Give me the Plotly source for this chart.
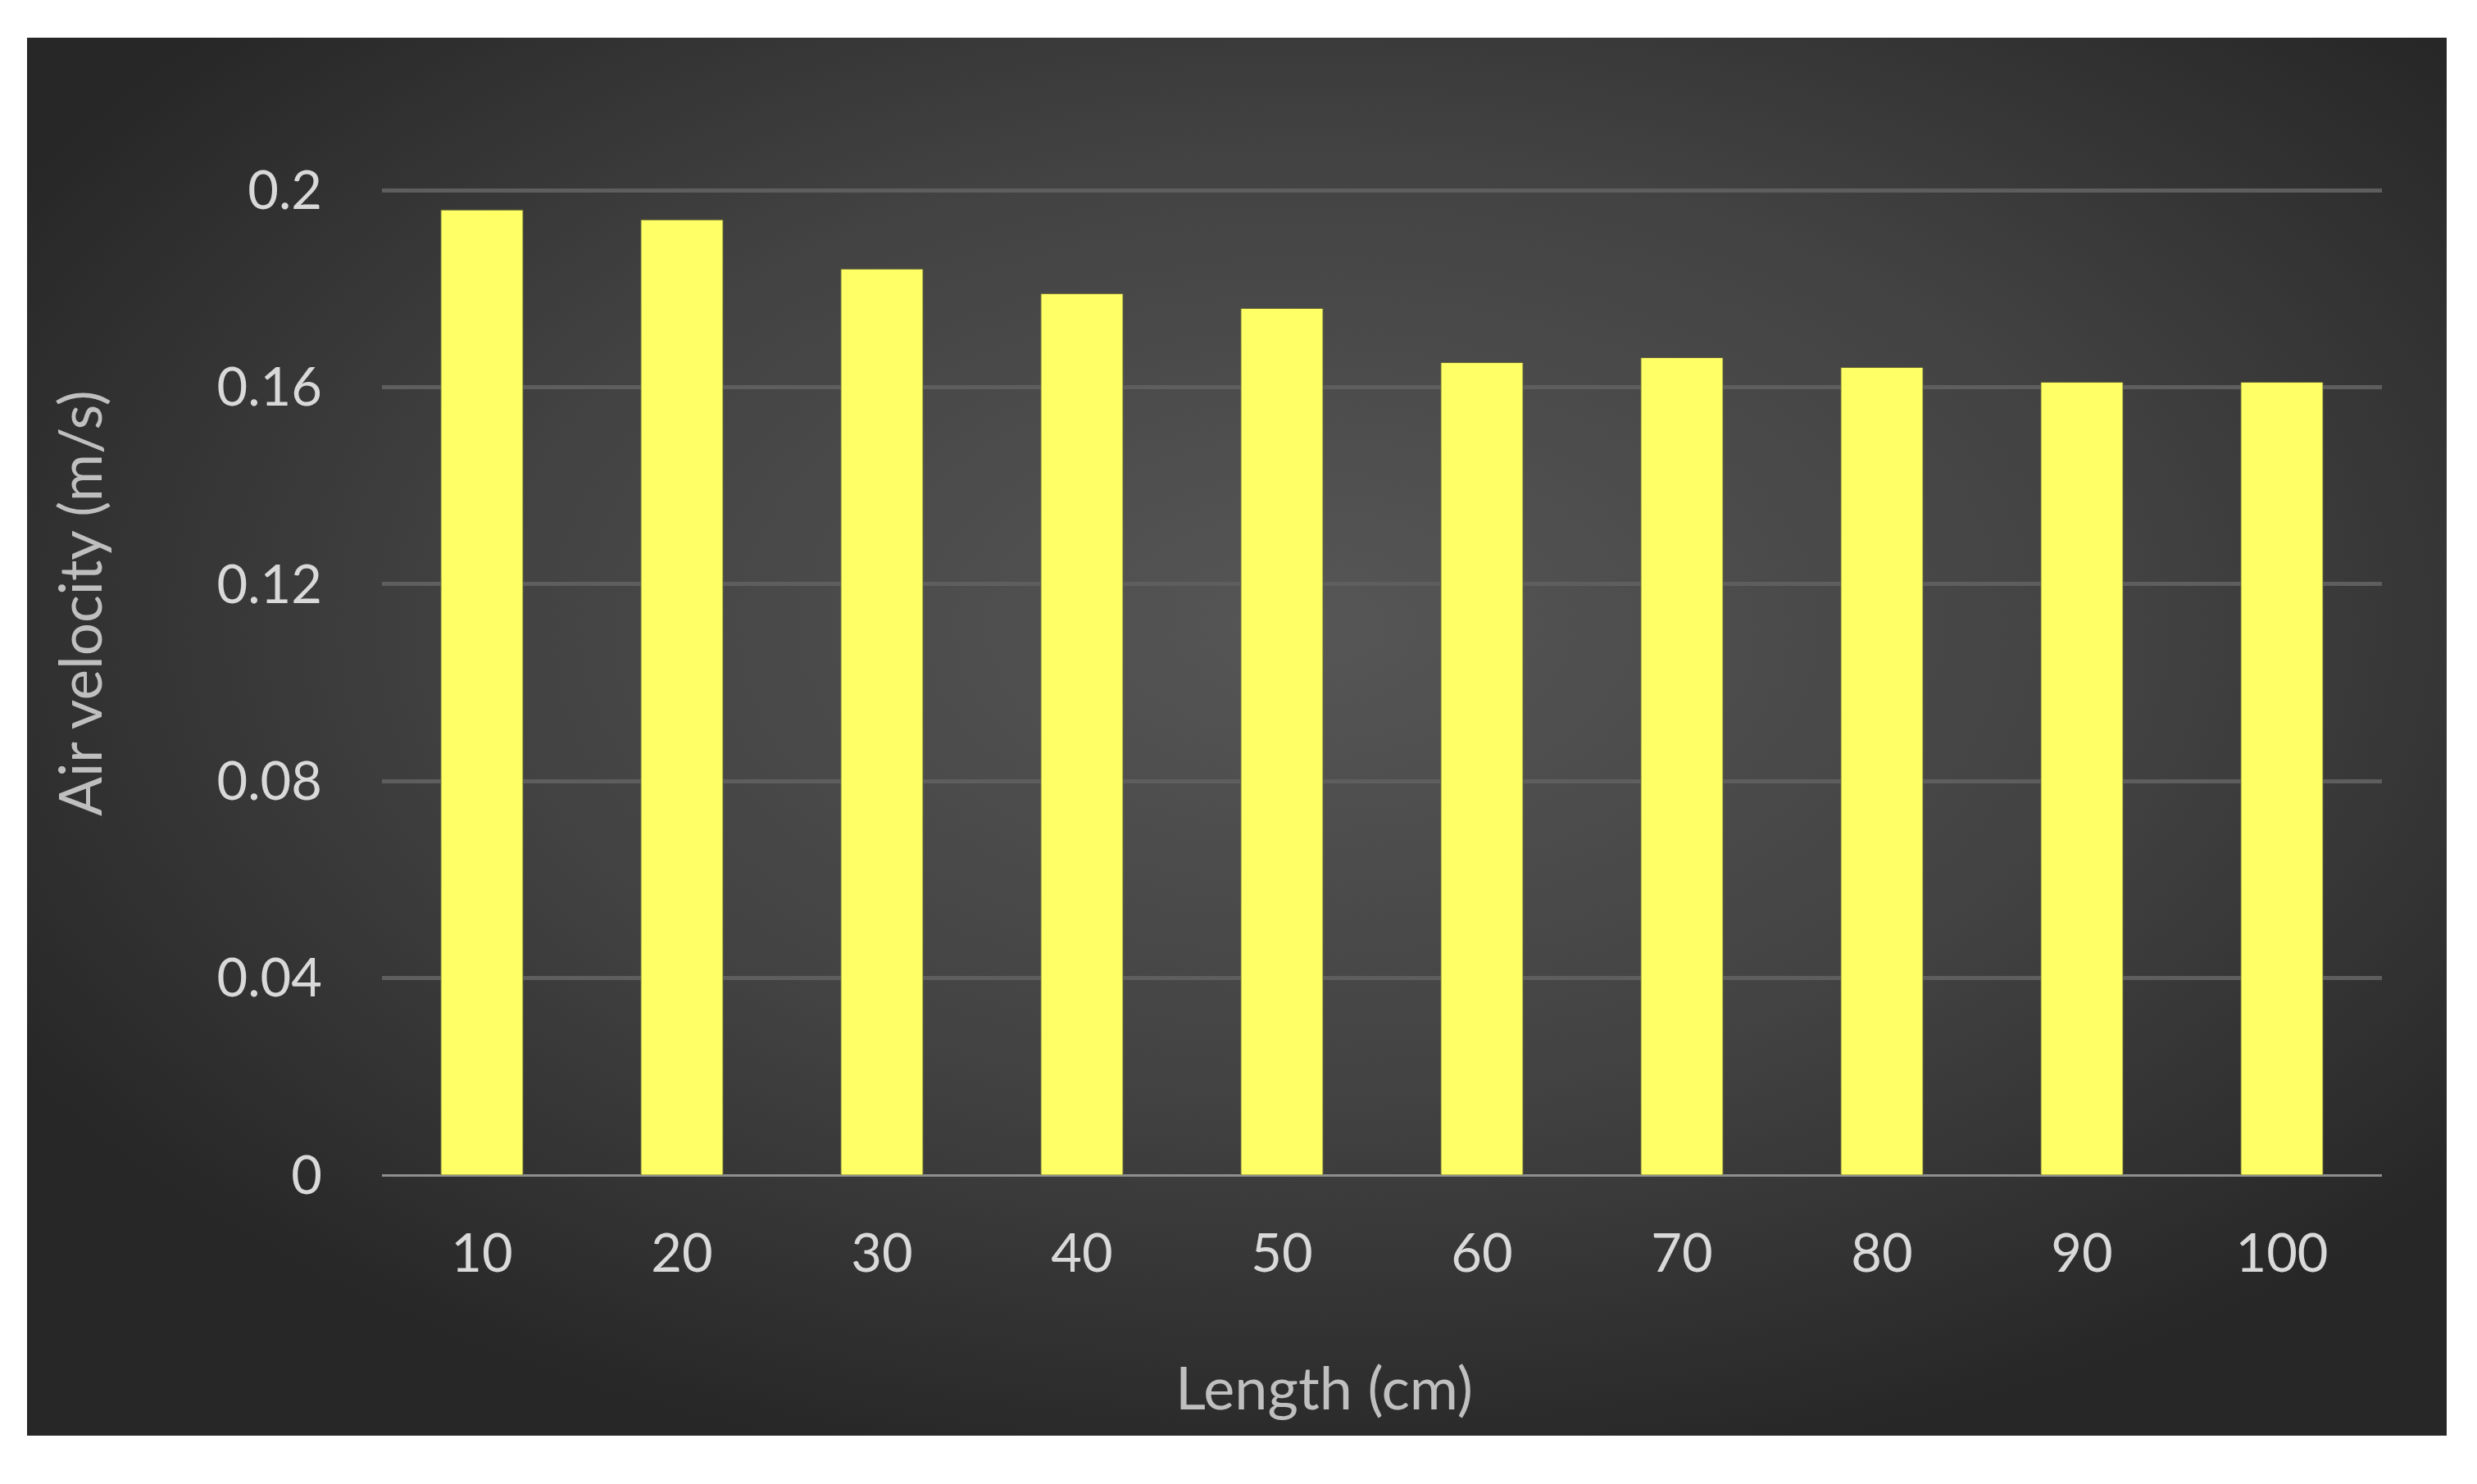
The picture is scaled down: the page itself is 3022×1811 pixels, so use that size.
import plotly.graph_objects as go

lengths = ["10", "20", "30", "40", "50", "60", "70", "80", "90", "100"]
air_velocity = [0.196, 0.194, 0.184, 0.179, 0.176, 0.165, 0.166, 0.164, 0.161, 0.161]
y_ticks = [0, 0.04, 0.08, 0.12, 0.16, 0.2]
y_tick_text = ["0", "0.04", "0.08", "0.12", "0.16", "0.2"]

W, H = 3022, 1811
L, R, T, B = 458, 124, 223, 385
pw, ph = W - L - R, H - T - B

def xp(px):
    return (px - L) / pw

def yp(py):
    return (H - B - py) / ph

# background panel (pixels, figure coords)
px0, px1, py0, py1 = 25, 2977, 38, 1744
svg = ("<svg xmlns='http://www.w3.org/2000/svg' width='1000' height='600' preserveAspectRatio='none'>"
       "<defs><radialGradient id='g' cx='0.53' cy='0.42' r='0.62' gradientUnits='objectBoundingBox'>"
       "<stop offset='0' stop-color='%23565656'/><stop offset='0.55' stop-color='%23424242'/>"
       "<stop offset='1' stop-color='%23272727'/></radialGradient></defs>"
       "<rect width='1000' height='600' fill='url(%23g)'/></svg>")
src = "data:image/svg+xml;charset=utf-8," + svg.replace("<", "%3C").replace(">", "%3E").replace(" ", "%20")

fig = go.Figure()
fig.add_trace(go.Bar(
    x=lengths, y=air_velocity,
    marker=dict(color="#ffff66", line=dict(color="#6b6b3a", width=1)),
))

font = "Lato, 'Open Sans', sans-serif"
fig.update_layout(
    width=W, height=H,
    margin=dict(l=L, r=R, t=T, b=B),
    paper_bgcolor="white",
    plot_bgcolor="rgba(0,0,0,0)",
    bargap=0.59,
    showlegend=False,
    font=dict(family=font, color="#d9d9d9", size=65),
    xaxis=dict(
        type="category",
        showgrid=False, showline=False, zeroline=False,
        ticks="outside", ticklen=0, tickcolor="rgba(0,0,0,0)",
        ticklabelstandoff=39,
        tickfont=dict(size=65, color="#d9d9d9", family=font),
    ),
    yaxis=dict(
        range=[0, 0.2002],
        tickvals=y_ticks, ticktext=y_tick_text,
        showgrid=True, gridcolor="#5e5e5e", gridwidth=5,
        zeroline=True, zerolinecolor="#8f8f8f", zerolinewidth=3,
        showline=False,
        ticklabelstandoff=72,
        tickfont=dict(size=65, color="#d9d9d9", family=font),
    ),
    annotations=[
        dict(text="Length (cm)", xref="paper", yref="paper", x=xp(1607), y=yp(1684),
             xanchor="center", yanchor="middle", showarrow=False,
             font=dict(size=72, color="#bfbfbf", family=font)),
        dict(text="Air velocity (m/s)", xref="paper", yref="paper", x=xp(88), y=yp(728),
             xanchor="center", yanchor="middle", showarrow=False, textangle=-90,
             font=dict(size=71, color="#bfbfbf", family=font)),
    ],
    images=[dict(
        source=src, xref="paper", yref="paper",
        x=xp(px0), y=yp(py0),
        sizex=(px1 - px0) / pw, sizey=(py1 - py0) / ph,
        xanchor="left", yanchor="top", sizing="stretch", layer="below",
    )],
)

fig.write_html("out.html")
